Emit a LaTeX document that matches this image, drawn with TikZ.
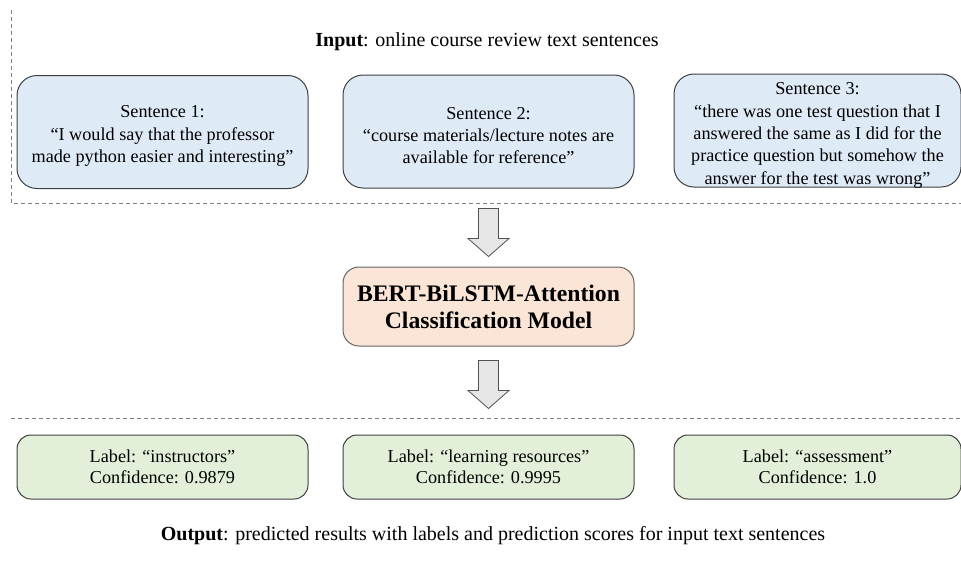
\documentclass[tikz,border=0pt]{standalone}
\usepackage{fontspec}
\setmainfont{Liberation Serif}
\usetikzlibrary{calc}
\definecolor{inblue}{HTML}{DEEBF7}
\definecolor{outgreen}{HTML}{E2F0D9}
\definecolor{modpeach}{HTML}{FBE5D6}
\definecolor{arrfill}{HTML}{E7E6E6}
\definecolor{edgegray}{HTML}{3F3F3F}
\tikzset{
  sentbox/.style={draw=edgegray, line width=1pt, fill=inblue, rounded corners=20pt, minimum width=291pt, minimum height=113pt, inner sep=0pt},
  senttxt/.style={align=center, inner sep=0pt, font=\fontsize{18.2}{22.3}\selectfont},
  outbox/.style={draw=edgegray, line width=1pt, fill=outgreen, rounded corners=14pt, minimum width=291pt, minimum height=64pt, align=center, inner sep=0pt, font=\fontsize{18.2}{21}\selectfont},
  modbox/.style={draw=edgegray!80, line width=1pt, fill=modpeach, rounded corners=16pt, minimum width=291pt, minimum height=79pt, align=center, inner sep=0pt, font=\fontsize{23.7}{27}\selectfont\bfseries},
  sepline/.style={draw=gray, line width=0.7pt, dash pattern=on 4pt off 3pt},
  captxt/.style={inner sep=0pt, font=\fontsize{20}{24}\selectfont},
  blockarrow/.pic={
    \draw[draw=edgegray!90, fill=arrfill, line width=0.8pt]
      (-10,-24) -- (10,-24) -- (10,6) -- (20.5,6) -- (0,24) -- (-20.5,6) -- (-10,6) -- cycle;
  }
}
\begin{document}
\begin{tikzpicture}[x=1pt, y=-1pt]
\useasboundingbox (0,0) rectangle (961,563);
% separators
\coordinate (tl) at (11,10);
\coordinate (bl) at (11,203);
\coordinate (br) at (961,203);
\coordinate (ol) at (11,418);
\coordinate (or) at (961,418);
\draw[sepline] (tl) -- (bl) -- (br);
\draw[sepline] (ol) -- (or);
% input caption
\node[captxt] (incap) at (487,42) {\textbf{Input}: online course review text sentences};
% sentence boxes
\node[sentbox] (s1) at (162.5,132) {};
\node[senttxt] (s1t) at ($(s1.center)+(0,4)$) {Sentence 1:\\``I would say that the professor\\made python easier and interesting''};
\node[sentbox] (s2) at (488.5,131.5) {};
\node[senttxt] (s2t) at ($(s2.center)+(0,4)$) {Sentence 2:\\``course materials/lecture notes are\\available for reference''};
\node[sentbox, minimum width=287pt] (s3) at (817.5,130.5) {};
\node[senttxt] (s3t) at ($(s3.center)+(0,5)$) {Sentence 3:\\``there was one test question that I\\answered the same as I did for the\\practice question but somehow the\\answer for the test was wrong''};
% model
\node[modbox] (model) at (488.5,306.5) {BERT-BiLSTM-Attention\\Classification Model};
% arrows
\pic at ($(model.north)+(0,-34)$) {blockarrow};
\pic at ($(model.south)+(0,38)$) {blockarrow};
% output boxes
\node[outbox] (o1) at (162.5,467) {Label: ``instructors''\\Confidence: 0.9879};
\node[outbox] (o2) at (488.5,467) {Label: ``learning resources''\\Confidence: 0.9995};
\node[outbox, minimum width=287pt] (o3) at (817.5,467) {Label: ``assessment''\\Confidence: 1.0};
\node[captxt] (outcap) at (493,536) {\textbf{Output}: predicted results with labels and prediction scores for input text sentences};
\end{tikzpicture}
\end{document}
